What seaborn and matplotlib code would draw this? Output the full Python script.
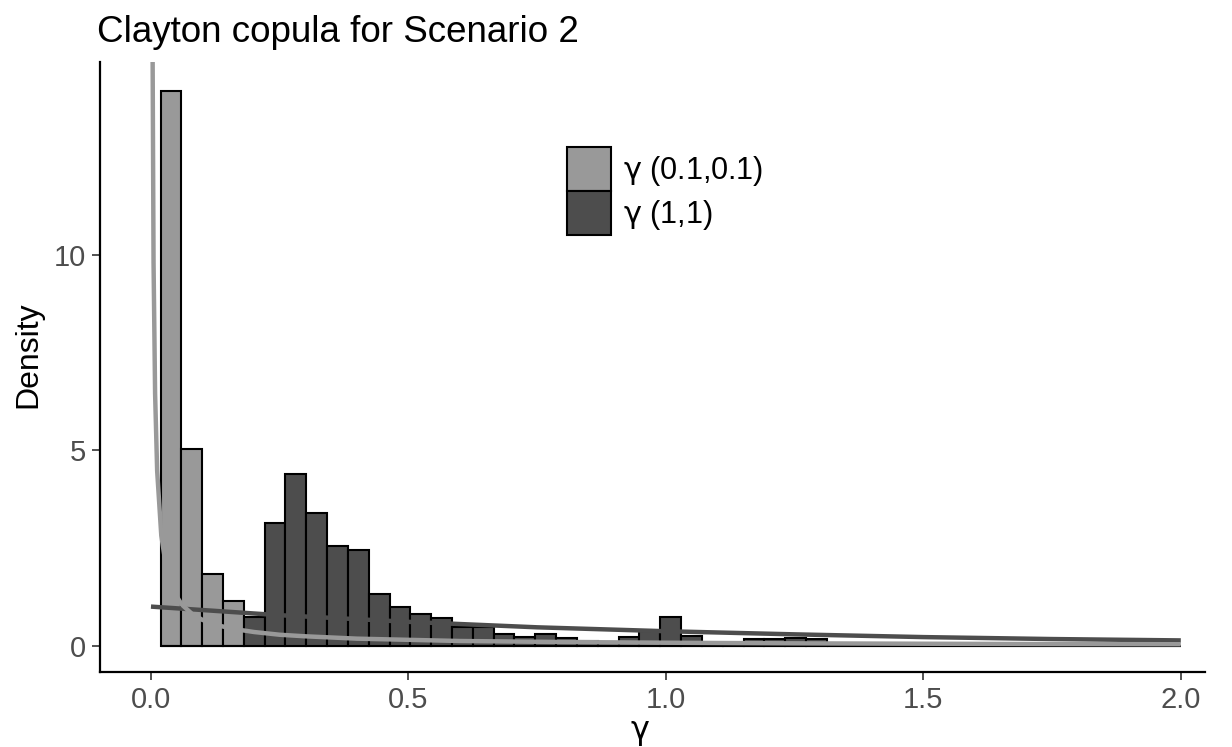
import matplotlib
matplotlib.use("Agg")
import matplotlib.pyplot as plt
import numpy as np
import pandas as pd
import seaborn as sns
from matplotlib.patches import Patch

# bin heights (density), 49 bins from ~0.0185 to 2.0
light_heights = [14.2, 5.03, 1.84, 1.14] + [0.0] * 45
dark_heights = [
    0.0, 0.0, 0.0, 0.0, 0.74, 3.13, 4.40, 3.40, 2.55, 2.45,
    1.33, 0.99, 0.81, 0.72, 0.48, 0.47, 0.31, 0.21, 0.29, 0.19,
    0.12, 0.10, 0.21, 0.37, 0.73, 0.26, 0.08, 0.08, 0.16, 0.16,
    0.20, 0.18,
] + [0.0] * 17
bin_lo, bin_hi, n_bins = 0.0185, 2.0, 49

# prior density curves
light_curve_x = [0.003, 0.005, 0.008, 0.012, 0.02, 0.03, 0.045, 0.06, 0.08, 0.1,
                 0.13, 0.16, 0.2, 0.25, 0.3, 0.4, 0.5, 0.6, 0.8, 1.0,
                 1.25, 1.5, 1.75, 2.0]
light_curve_y = [15.6, 9.8, 6.45, 4.47, 2.82, 1.96, 1.36, 1.05, 0.81, 0.66,
                 0.52, 0.43, 0.35, 0.28, 0.24, 0.18, 0.15, 0.12, 0.094, 0.076,
                 0.060, 0.050, 0.042, 0.037]
dark_curve_x = [0.0, 0.25, 0.5, 0.75, 1.0, 1.25, 1.5, 1.75, 2.0]
dark_curve_y = [1.0, 0.78, 0.61, 0.47, 0.37, 0.29, 0.22, 0.17, 0.135]

labels = [r"$\mathrm{\gamma}$ (0.1,0.1)", r"$\mathrm{\gamma}$ (1,1)"]
light_col = "#999999"
dark_col = "#4d4d4d"

bin_w = (bin_hi - bin_lo) / n_bins
centers = bin_lo + bin_w * (np.arange(n_bins) + 0.5)
df_light = pd.DataFrame({"gamma": centers, "density": light_heights})
df_dark = pd.DataFrame({"gamma": centers, "density": dark_heights})

sns.set_style("white")
plt.rcParams["font.family"] = ["Liberation Sans", "DejaVu Sans"]
plt.rcParams["mathtext.fontset"] = "dejavusans"

fig = plt.figure(figsize=(12.32, 7.47), dpi=100)
ax = fig.add_axes([100 / 1232, 1 - 672 / 747, 1105 / 1232, 610 / 747])

for df, col in [(df_light, light_col), (df_dark, dark_col)]:
    sns.histplot(data=df, x="gamma", weights="density", binwidth=bin_w,
                 binrange=(bin_lo, bin_hi), color=col, alpha=1,
                 edgecolor="black", linewidth=1.5, ax=ax)

sns.lineplot(x=dark_curve_x, y=dark_curve_y, color=dark_col, linewidth=3.2,
             ax=ax, solid_capstyle="butt")
sns.lineplot(x=light_curve_x, y=light_curve_y, color=light_col, linewidth=3.2,
             ax=ax, solid_capstyle="butt")

ax.set_xlim(-0.099, 2.047)
ax.set_ylim(-0.673, 14.93)
ax.set_xticks([0, 0.5, 1.0, 1.5, 2.0])
ax.set_xticklabels(["0.0", "0.5", "1.0", "1.5", "2.0"])
ax.set_yticks([0, 5, 10])
ax.tick_params(axis="both", direction="out", length=6, width=1.2, color="#333333",
               labelsize=21, labelcolor="#4d4d4d", pad=4, left=True, bottom=True)
for side in ["top", "right"]:
    ax.spines[side].set_visible(False)
for side in ["left", "bottom"]:
    ax.spines[side].set_color("black")
    ax.spines[side].set_linewidth(1.6)

ax.set_xlabel(r"$\mathrm{\gamma}$", fontsize=23, color="black")
ax.xaxis.set_label_coords((640 - 100) / 1105, -(718 - 672) / 610)
ax.set_ylabel("Density", fontsize=23, color="black")
ax.yaxis.set_label_coords(-(100 - 43) / 1105, (672 - 355) / 610)
fig.text(97 / 1232, 1 - 42 / 747, "Clayton copula for Scenario 2", fontsize=26.5,
         ha="left", va="baseline", color="black")

handles = [Patch(facecolor=light_col, edgecolor="black", linewidth=1.5),
           Patch(facecolor=dark_col, edgecolor="black", linewidth=1.5)]
leg = fig.legend(handles, labels, loc="upper left",
                 bbox_to_anchor=(567 / 1232, 1 - 147 / 747), frameon=False,
                 fontsize=22, handlelength=1.44, handleheight=1.84, labelspacing=0.0,
                 handletextpad=0.4, borderpad=0, borderaxespad=0)
for t in leg.get_texts():
    t.set_color("black")

fig.savefig("out.png", dpi=100)
